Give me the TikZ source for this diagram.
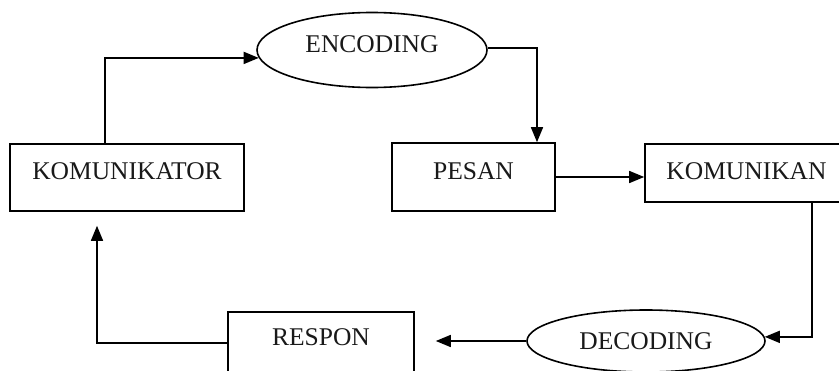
\documentclass[tikz,border=0pt]{standalone}
\usepackage{fontspec}
\setmainfont{Liberation Serif}
\usetikzlibrary{shapes.geometric,arrows.meta}
\begin{document}
\begin{tikzpicture}[x=1pt,y=-1pt,
  txt/.style={font=\fontsize{25.5}{30}\selectfont, text=black!90},
  boxnode/.style={txt, draw, line width=1.6pt, rectangle, inner sep=0pt,
     text height=18pt, text depth=14pt},
  ovalnode/.style={txt, draw, line width=1.6pt, ellipse, inner sep=0pt},
  conn/.style={line width=1.6pt, -{Triangle[length=15pt,width=12pt]}}]
\useasboundingbox (0,0) rectangle (839,370);
\clip (0,0) rectangle (839,370);
\fill[white] (0,0) rectangle (839,370);

\node[boxnode, minimum width=234pt, minimum height=67pt] (kor) at (127,177.5) {KOMUNIKATOR};
\node[boxnode, minimum width=163pt, minimum height=68pt] (pes) at (473.5,177) {PESAN};
\node[boxnode, minimum width=203pt, minimum height=58pt, text depth=6pt] (kom) at (746.5,173) {KOMUNIKAN};
\node[boxnode, minimum width=186pt, minimum height=62pt] (resp) at (321,343) {RESPON};
\node[ovalnode, minimum width=230pt, minimum height=75pt, text height=18pt, text depth=14pt] (enc) at (372,50) {ENCODING};
\node[ovalnode, minimum width=238pt, minimum height=62pt] (dec) at (646,341) {DECODING};

\coordinate (k1) at (105,0);
\coordinate (c2) at (537,0);
\coordinate (c3) at (812,0);
\coordinate (c4) at (97,0);

\draw[conn] (kor.north -| k1) |- (enc.184);
\draw[conn] (enc.1) -| (c2 |- pes.north);
\draw[conn] (pes.east) -- (kom.west |- pes.east);
\draw[conn] (kom.south -| c3) |- (dec.2);
\draw[conn, shorten >=21pt] (dec.west) -- (resp.east |- dec.west);
\draw[conn, shorten >=14pt] (resp.west) -| (c4 |- kor.south);
\end{tikzpicture}
\end{document}
